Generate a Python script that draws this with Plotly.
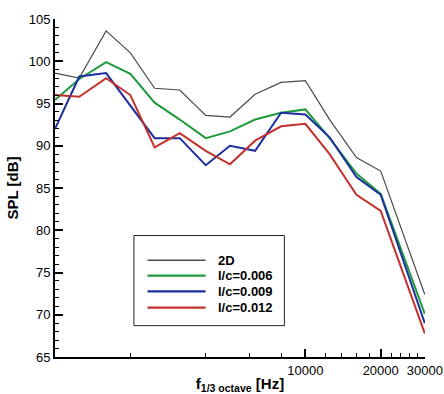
import math
import plotly.graph_objects as go

# ---- data ----
freq_hz = [1000, 1250, 1600, 2000, 2500, 3150, 4000, 5000, 6300, 8000, 10000, 12500, 16000, 20000, 30000]
spl_2d = [98.6, 98.0, 103.6, 101.0, 96.8, 96.6, 93.6, 93.4, 96.1, 97.5, 97.7, 93.1, 88.6, 87.0, 72.4]
spl_006 = [95.4, 97.9, 99.9, 98.5, 95.1, 93.1, 90.9, 91.7, 93.1, 93.9, 94.3, 90.9, 86.7, 84.3, 70.1]
spl_009 = [92.0, 98.2, 98.6, 94.8, 90.9, 90.9, 87.7, 90.0, 89.4, 93.9, 93.7, 91.0, 86.3, 84.2, 69.0]
spl_012 = [96.0, 95.8, 98.0, 96.0, 89.8, 91.5, 89.4, 87.8, 90.6, 92.3, 92.6, 89.0, 84.2, 82.3, 67.8]

series_names = ["2D", "l/c=0.006", "l/c=0.009", "l/c=0.012"]
series_values = [spl_2d, spl_006, spl_009, spl_012]
series_colors = ["#4a4a4a", "#1f9a3c", "#1c2f9e", "#c4302b"]
series_widths = [1.2, 2, 2, 2]

x_major_ticks = [10000, 20000, 30000]
x_minor_ticks = [2000, 4000, 6000, 8000, 12000, 14000, 16000, 18000, 22000, 24000, 26000, 28000]

FONT = "Liberation Sans, Arial, sans-serif"

fig = go.Figure()
for name, vals, col, w in zip(series_names, series_values, series_colors, series_widths):
    fig.add_trace(go.Scatter(x=freq_hz, y=vals, mode="lines", name=name,
                             line=dict(color=col, width=w), showlegend=False))

# manual legend box (paper coordinates)
fig.add_shape(type="rect", xref="paper", yref="paper", x0=0.2133, x1=0.62, y0=0.0928, y1=0.3594,
              line=dict(color="#222", width=1), fillcolor="white", layer="above")
row_y = [0.286, 0.2406, 0.1942, 0.1458]
for name, col, w, yy in zip(series_names, series_colors, series_widths, row_y):
    fig.add_shape(type="line", xref="paper", yref="paper", x0=0.25, x1=0.407, y0=yy, y1=yy,
                  line=dict(color=col, width=w + 0.3), layer="above")
    fig.add_annotation(xref="paper", yref="paper", x=0.436, y=yy, text="<b>%s</b>" % name,
                       showarrow=False, xanchor="left", yanchor="middle",
                       font=dict(family=FONT, size=13, color="black"))

fig.update_layout(
    width=444, height=394,
    margin=dict(l=53, r=19, t=12, b=37),
    paper_bgcolor="white", plot_bgcolor="white",
    font=dict(family=FONT, size=13, color="black"),
    showlegend=False,
)
fig.update_xaxes(
    type="log", range=[3, math.log10(30000) + 0.0008],
    tickmode="array", tickvals=x_major_ticks, ticktext=[str(v) for v in x_major_ticks],
    ticks="inside", ticklen=8, tickwidth=1.5, tickcolor="black",
    minor=dict(tickmode="array", tickvals=x_minor_ticks, ticks="inside", ticklen=4,
               tickwidth=1, tickcolor="black", showgrid=False),
    showline=True, linecolor="black", linewidth=2, showgrid=False, zeroline=False,
    tickfont=dict(size=13), automargin=False, ticklabeloverflow="allow",
    title=dict(text="<b>f<sub>1/3 octave</sub> [Hz]</b>", font=dict(size=15), standoff=2),
)
fig.update_yaxes(
    range=[65, 105], tickmode="linear", tick0=65, dtick=5,
    ticks="inside", ticklen=8, tickwidth=1.5, tickcolor="black",
    minor=dict(tickmode="linear", dtick=1, ticks="inside", ticklen=4, tickwidth=1,
               tickcolor="black", showgrid=False),
    showline=True, linecolor="black", linewidth=2, showgrid=False, zeroline=False,
    tickfont=dict(size=13),
    title=dict(text="<b>SPL [dB]</b>", font=dict(size=15), standoff=6),
)

fig.write_html("out.html")
